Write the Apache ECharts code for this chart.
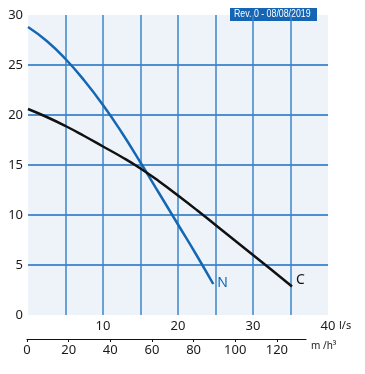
<!DOCTYPE html>
<html><head><meta charset="utf-8">
<script src="https://cdn.jsdelivr.net/npm/echarts@6/dist/echarts.min.js"></script>
<style>html,body{margin:0;padding:0;background:#fff}#c{width:365px;height:374px}</style>
</head><body><div id="c"></div>
<script>
// Flow in l/s, head in m
const flowN = [0, 2.5, 5, 7.5, 10, 12.5, 15, 17.5, 20, 22.5, 24.7];
const headN = [28.8, 27.4, 25.6, 23.45, 21.0, 18.25, 15.25, 12.15, 9.05, 5.95, 3.1];
const flowC = [0, 2.5, 5, 7.5, 10, 12.5, 15, 17.5, 20, 22.5, 25, 27.5, 30, 32.5, 35.2];
const headC = [20.6, 19.8, 18.9, 17.9, 16.85, 15.8, 14.65, 13.35, 11.95, 10.5, 9.0, 7.5, 6.0, 4.5, 2.85];
const seriesNames = ['N', 'C'];
const yTicks = [0, 5, 10, 15, 20, 25, 30];
const lsLabels = [10, 20, 30, 40];
const m3hTicks = [0, 20, 40, 60, 80, 100, 120];
const revText = 'Rev. 0 - 08/08/2019';
const unitLs = 'l/s';
const unitM3h = 'm /h³';

const FONT = "'Noto Sans', 'Open Sans', sans-serif";
const blue = '#1468b3';
const chart = echarts.init(document.getElementById('c'), null, {renderer: 'canvas'});

function pairs(xs, ys) { return xs.map((x, i) => [x, ys[i]]); }

chart.setOption({
  animation: false,
  grid: [
    {left: 28, top: 15, width: 300, height: 300, show: true, backgroundColor: '#eef3fa', borderWidth: 0},
    {left: 27, top: 339, width: 279, height: 0, show: false}
  ],
  xAxis: [
    {type: 'value', gridIndex: 0, min: 0, max: 40, interval: 5,
     axisLine: {show: false}, axisTick: {show: false},
     splitLine: {show: true, showMinLine: false, showMaxLine: false, lineStyle: {color: '#3b84cc', width: 1.5}},
     axisLabel: {margin: 5, color: '#1a1a1a', fontSize: 13, fontFamily: FONT,
       customValues: lsLabels}},
    {type: 'value', gridIndex: 1, min: 0, max: 134, interval: 20, position: 'bottom',
     axisLine: {show: true, lineStyle: {color: '#111', width: 1.2}},
     axisTick: {show: true, inside: false, length: 3, lineStyle: {color: '#111'}, customValues: m3hTicks},
     splitLine: {show: false},
     axisLabel: {margin: 5, color: '#1a1a1a', fontSize: 13, fontFamily: FONT, customValues: m3hTicks}}
  ],
  yAxis: [
    {type: 'value', gridIndex: 0, min: 0, max: 30, interval: 5,
     axisLine: {show: false}, axisTick: {show: false},
     splitLine: {show: true, showMinLine: false, showMaxLine: false, lineStyle: {color: '#1a6cc2', width: 1.5}},
     axisLabel: {margin: 5, color: '#1a1a1a', fontSize: 13, fontFamily: FONT, customValues: yTicks}},
    {type: 'value', gridIndex: 1, show: false}
  ],
  series: [
    {name: seriesNames[0], type: 'line', xAxisIndex: 0, yAxisIndex: 0, smooth: 0.5,
     showSymbol: false, symbol: 'none', lineStyle: {color: blue, width: 2.5}, itemStyle: {color: blue},
     endLabel: {show: true, formatter: seriesNames[0], distance: 4, offset: [0, -1], color: blue, fontSize: 14, fontFamily: FONT},
     data: pairs(flowN, headN)},
    {name: seriesNames[1], type: 'line', xAxisIndex: 0, yAxisIndex: 0, smooth: 0.5,
     showSymbol: false, symbol: 'none', lineStyle: {color: '#111', width: 2.5}, itemStyle: {color: '#111'},
     endLabel: {show: true, formatter: seriesNames[1], distance: 4, offset: [0, -6], color: '#111', fontSize: 14, fontFamily: FONT},
     data: pairs(flowC, headC)}
  ],
  graphic: [
    {type: 'rect', left: 230, top: 8, shape: {width: 87, height: 13}, style: {fill: '#1565b4'}},
    {type: 'text', x: 234, y: 9, scaleX: 0.88, style: {text: revText, fill: '#fff', font: "10px 'Liberation Sans', sans-serif"}},
    {type: 'text', left: 339, top: 320, style: {text: unitLs, fill: '#1a1a1a', font: "11px " + FONT}},
    {type: 'text', left: 311, top: 341, style: {text: unitM3h, fill: '#1a1a1a', font: "10px " + FONT}}
  ]
});
</script></body></html>
